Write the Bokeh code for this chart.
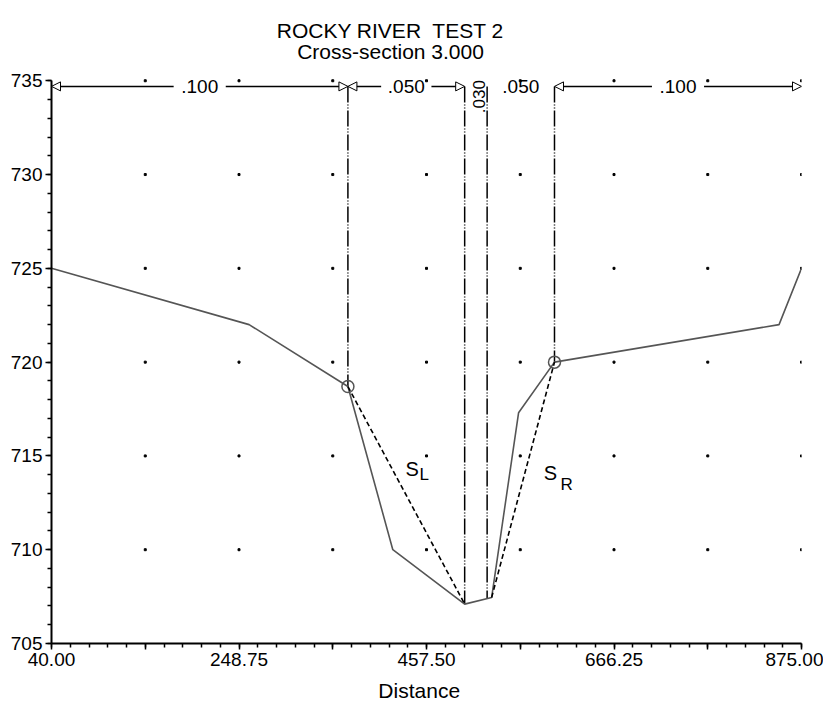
import numpy as np
from bokeh.plotting import figure
from bokeh.layouts import column
from bokeh.models import (Range1d, FixedTicker, Label, Arrow, NormalHead,
                          CustomJSTickFormatter, ColumnDataSource)
from bokeh.core.properties import value
from bokeh.embed import file_html
from bokeh.resources import INLINE

# ---------------- data ----------------
title_line1 = "ROCKY RIVER\u00a0 TEST 2"
title_line2 = "Cross-section 3.000"
x_label = "Distance"

station = [40, 260, 370, 420, 500, 530, 560, 600, 850, 875]
elevation = [725.0, 722.0, 718.7, 710.0, 707.1, 707.45, 717.3, 720.0, 722.0, 725.0]

bank_station = [370, 600]
bank_elev = [718.7, 720.0]

sl_station = [370, 500]
sl_elev = [718.7, 707.1]
sr_station = [530, 600]
sr_elev = [707.45, 720.0]

n_breaks = [40, 370, 500, 525, 600, 875]
n_values = [".100", ".050", ".030", ".050", ".100"]
break_line_station = [370, 500, 525, 600]
break_line_bottom = [718.7, 707.1, 707.4, 720.0]

x_ticks = [40.0, 144.375, 248.75, 353.125, 457.5, 561.875, 666.25, 770.625, 875.0]
x_tick_labels = [40.0, 248.75, 457.5, 666.25, 875.0]
y_ticks = [705, 710, 715, 720, 725, 730, 735]

FONT = "Liberation Sans"
TOP_Y = 734.7

TOP_H = 69      # title strip height
BOT_H = 24      # axis-title strip height
MAIN_H = 703 - TOP_H - BOT_H


def strip(h):
    f = figure(width=823, height=h, output_backend="svg", toolbar_location=None,
               x_range=Range1d(0, 823), y_range=Range1d(h, 0),
               x_axis_type=None, y_axis_type=None, min_border=0)
    f.outline_line_color = None
    return f


# ---------------- title strip ----------------
tfig = strip(TOP_H)
tfig.text(x=[372, 372], y=[30, 51], text=[title_line1, title_line2],
          text_font=value(FONT), text_font_size="21px", text_align="center",
          text_baseline="alphabetic", text_color="black")

# ---------------- main figure ----------------
p = figure(width=823, height=MAIN_H, output_backend="svg", toolbar_location=None,
           x_range=Range1d(40, 875), y_range=Range1d(705, 735.6),
           min_border_left=51, min_border_right=22, min_border_top=0,
           min_border_bottom=36)
p.outline_line_color = None
p.xgrid.visible = False
p.ygrid.visible = False

x_minor = list(np.arange(40, 875.01, 20.875))
p.xaxis.ticker = FixedTicker(ticks=x_ticks, minor_ticks=x_minor)
p.xaxis.formatter = CustomJSTickFormatter(args=dict(lab=x_tick_labels), code="""
    for (const v of lab) { if (Math.abs(v - tick) < 1e-6) return tick.toFixed(2); }
    return "";
""")
p.yaxis.ticker = FixedTicker(ticks=y_ticks, minor_ticks=list(range(705, 736)))
p.yaxis.bounds = (705, 735)

for ax in (p.xaxis[0], p.yaxis[0]):
    ax.axis_line_width = 2
    ax.axis_line_color = "black"
    ax.major_tick_line_color = "black"
    ax.minor_tick_line_color = "black"
    ax.major_tick_line_width = 1.5
    ax.minor_tick_line_width = 1.5
    ax.major_tick_in = 0
    ax.minor_tick_in = 0
    ax.major_tick_out = 6
    ax.minor_tick_out = 4
    ax.major_label_text_font = FONT
    ax.major_label_text_font_size = "19px"
    ax.major_label_text_color = "black"
    ax.major_label_standoff = 3

# dotted grid at major tick intersections
gx, gy = np.meshgrid(x_ticks[1:], y_ticks[1:])
p.scatter(gx.ravel(), gy.ravel(), marker="square", size=2, color="black")

# n-value break lines
p.segment(x0=break_line_station, y0=[TOP_Y] * 4, x1=break_line_station,
          y1=break_line_bottom, line_color="black", line_width=1.5,
          line_dash="16 2 1 2 1 2")

# ground profile
p.line(station, elevation, line_color="#555555", line_width=1.6)
p.scatter(bank_station, bank_elev, marker="circle", size=12,
          fill_color=None, line_color="#555555", line_width=1.5)

# side slopes
p.line(sl_station, sl_elev, line_color="black", line_width=1.6, line_dash="5 3")
p.line(sr_station, sr_elev, line_color="black", line_width=1.6, line_dash="5 3")

# n-value labels and arrows
mids = [(a + b) / 2 for a, b in zip(n_breaks[:-1], n_breaks[1:])]
horiz = [0, 1, 3, 4]
src = ColumnDataSource(dict(x=[mids[i] for i in horiz], y=[TOP_Y] * 4,
                            t=[n_values[i] for i in horiz]))
p.text(x="x", y="y", text="t", source=src, text_font=value(FONT),
       text_font_size="19px", text_align="center", text_baseline="middle",
       text_color="black")
p.text(x=[mids[2] + 3], y=[734.15], text=[n_values[2]], angle=np.pi / 2,
       text_font=value(FONT), text_font_size="17px", text_align="center",
       text_baseline="middle", text_color="black")

gap = {0: 29, 1: 28, 4: 29}
for i, g in gap.items():
    a, b = n_breaks[i], n_breaks[i + 1]
    m = mids[i]
    for xs, xe in ((m - g, a), (m + g, b)):
        p.add_layout(Arrow(start=None,
                           end=NormalHead(size=9, fill_color="white",
                                          line_color="black", line_width=1),
                           x_start=xs, y_start=TOP_Y, x_end=xe, y_end=TOP_Y,
                           line_color="black", line_width=1.5))

# S_L, S_R labels
for (x, y, t, fs) in [(434, 714.3, "S", "20px"), (449.8, 714.0, "L", "17px"),
                      (588, 714.1, "S", "20px"), (606.8, 713.5, "R", "17px")]:
    p.add_layout(Label(x=x, y=y, text=t, text_font=FONT, text_font_size=fs,
                       text_color="black", text_baseline="alphabetic"))

# ---------------- axis title strip ----------------
bfig = strip(BOT_H)
bfig.text(x=[403.5], y=[11], text=[x_label], text_font=value(FONT),
          text_font_size="21px", text_align="center",
          text_baseline="alphabetic", text_color="black")

layout = column(tfig, p, bfig, spacing=0)
open("out.html", "w").write(file_html(layout, INLINE))
